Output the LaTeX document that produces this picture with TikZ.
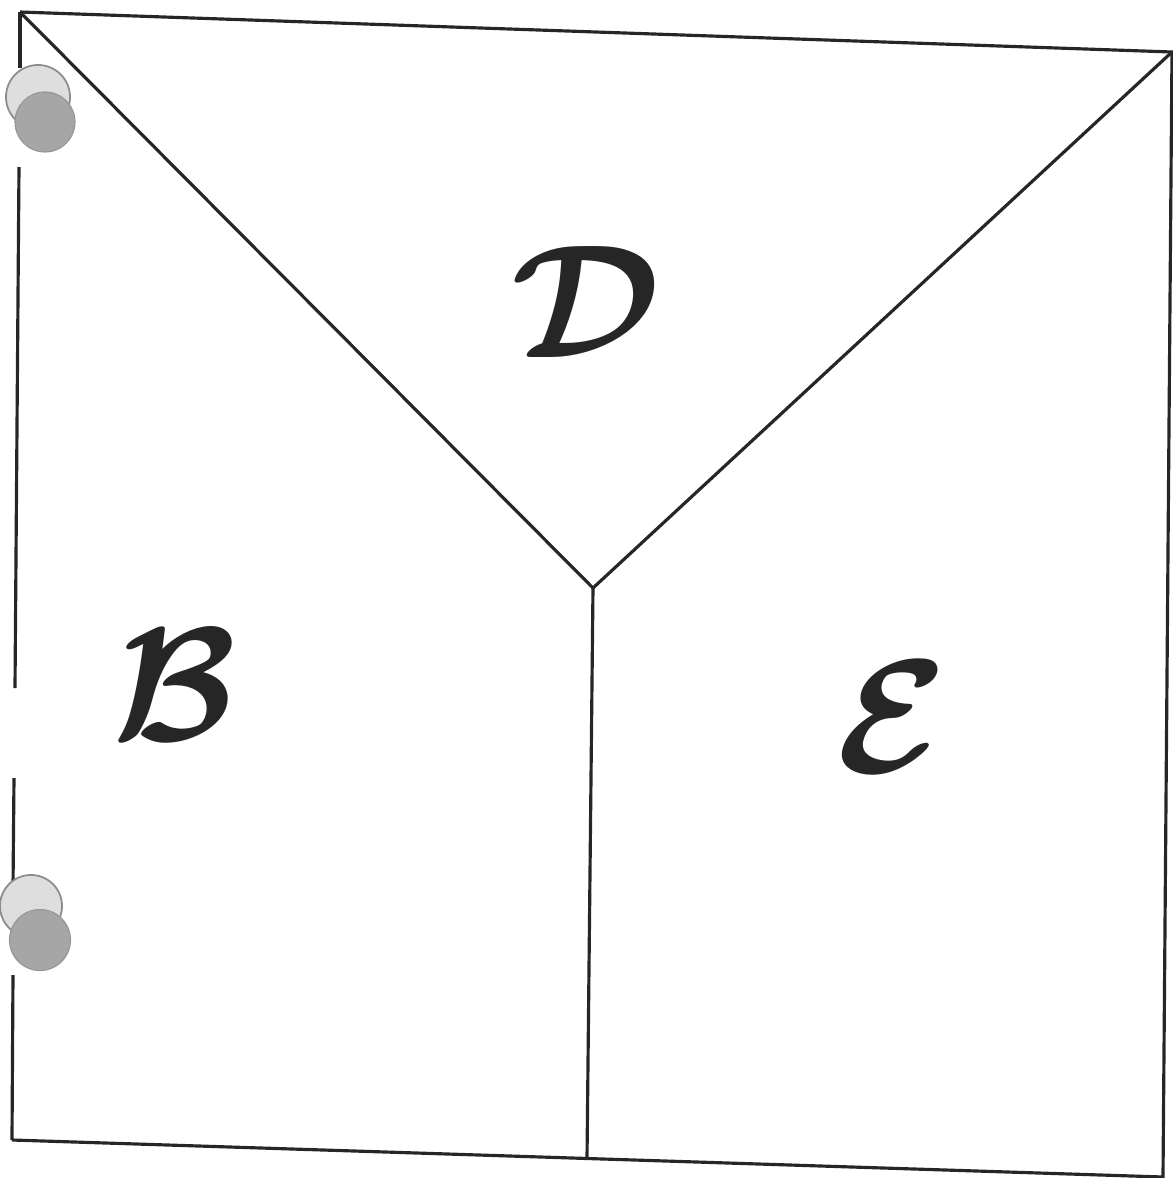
\documentclass[tikz,border=0pt]{standalone}
\usepackage{amsmath,amssymb}
\usepackage{graphicx}
\usepackage{xcolor}
\usepackage{tikz}
\definecolor{holegray}{RGB}{166,166,166}
\definecolor{holeshade}{RGB}{222,222,222}

\begin{document}
\begin{tikzpicture}[x=0.01cm, y=-0.01cm,
      rim/.style={draw=black!85, line width=0.9pt},
      hole/.style={fill=holegray, draw=holegray!90!black, line width=0.3pt},
      shade/.style={fill=holeshade, draw=black!45, line width=0.5pt},
      letter/.style={inner sep=0pt, text=black!85}
    ]
    \useasboundingbox (0,0) rectangle (1173,1178);
    \coordinate (tl) at (20,12);
    \coordinate (tr) at (1172,52);
    \coordinate (bl) at (12,1140);
    \coordinate (br) at (1163,1177);
    \coordinate (mid) at (593,588);
    \coordinate (bot) at (587,1159);

    \draw[rim] (tl) -- (tr) -- (br) -- (bl);
    \draw[rim] (tl) -- (mid) -- (tr);
    \draw[rim] (mid) -- (bot);
    % left edge, broken by the punched holes
    \draw[rim] (tl) -- (20,68);
    \draw[rim] (19,167) -- (15,688);
    \draw[rim] (14,778) -- (13,888);
    \draw[rim] (13,975) -- (bl);

    % punched holes
    \node[shade, circle, minimum size=0.64cm, inner sep=0pt] (h1s) at (38,97) {};
    \node[hole, circle, minimum size=0.60cm, inner sep=0pt] (h1) at (45,122) {};
    \node[shade, circle, minimum size=0.62cm, inner sep=0pt] (h2s) at (31,906) {};
    \node[hole, circle, minimum size=0.61cm, inner sep=0pt] (h2) at (40,940) {};

    \node[letter] (D) at (586,302) {\scalebox{4.6}{\boldmath$\mathcal{D}$}};
    \node[letter] (B) at (175,685) {\scalebox{4.6}{\boldmath$\mathcal{B}$}};
    \node[letter] (E) at (892,717) {\scalebox{4.6}{\boldmath$\mathcal{E}$}};
  \end{tikzpicture}
\end{document}
